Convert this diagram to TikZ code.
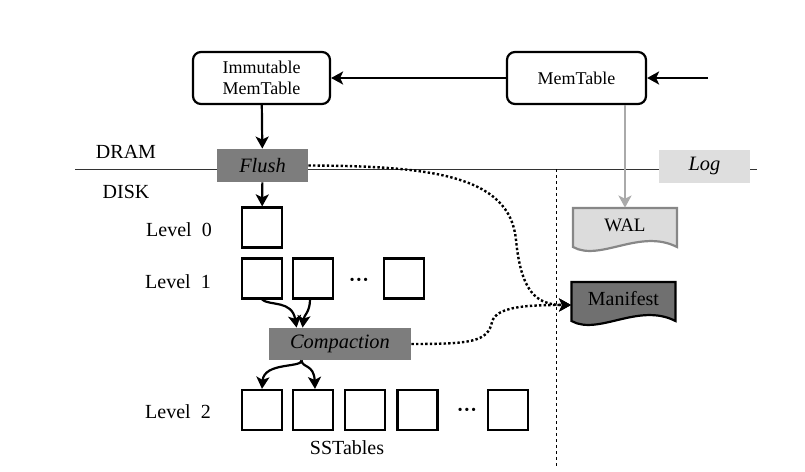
\documentclass[tikz,border=0pt]{standalone}
\usepackage{fontspec}
\setmainfont{Liberation Serif}
\usetikzlibrary{arrows.meta,calc,positioning}
\definecolor{opgray}{RGB}{125,125,125}
\definecolor{loggray}{RGB}{222,222,222}
\definecolor{walgray}{RGB}{220,220,220}
\definecolor{walline}{RGB}{135,135,135}
\definecolor{mangray}{RGB}{112,112,112}
\definecolor{putgray}{RGB}{170,170,170}
\tikzset{
  memtable/.style={draw,line width=1.1pt,rounded corners=4pt,align=center,
    minimum width=68.5pt,minimum height=26pt,inner sep=1pt,font=\fontsize{9}{10.5}\selectfont},
  opbox/.style={fill=opgray,minimum width=45.5pt,minimum height=16.5pt,
    inner sep=0pt,font=\fontsize{10.2}{12}\selectfont\itshape},
  sst/.style={draw,line width=1.1pt,minimum size=20pt,inner sep=0pt},
  flow/.style={-{Stealth[length=6pt,width=6.5pt,inset=1.5pt]},line width=1.1pt},
  meta/.style={flow,line width=1.2pt,dash pattern=on 1.2pt off 1.1pt},
  doctext/.style={minimum width=52pt,minimum height=17pt,inner sep=0pt}
}
% document shape with a wavy bottom: name, centre x, top y, text, style
\newcommand\docshape[5]{%
  \draw[#5] (#2-52,#3) -- (#2-52,#3+39) .. controls (#2-25,#3+54) and (#2+15,#3+20) .. (#2+52,#3+39) -- (#2+52,#3) -- cycle;
  \node[doctext] (#1) at (#2,#3+17) {#4}
}

\begin{document}
\begin{tikzpicture}[x=0.5pt,y=-0.5pt,font=\fontsize{10}{12}\selectfont]
        \useasboundingbox (0,0) rectangle (805,472);
        % Separation lines
        \draw[line width=0.5pt,black!80] (75,169) -- (757,169);
        \draw[line width=0.5pt,dash pattern=on 1.5pt off 1.5pt] (556,169) -- (556,468);
        \node (dram) at (126,152) {DRAM};
        \node (disk) at (126,192) {DISK};

        % The memtables
        \node[memtable] (imm) at (261.5,78) {Immutable\\MemTable};
        \node[memtable,minimum width=69.5pt] (mem) at (576.5,78) {MemTable};
        \coordinate (put) at (708,78);
        \draw[flow] (put) -- (mem);
        \draw[flow] (mem) -- (imm);

        % Flush and log
        \node[opbox] (flush) at (262.5,165.5) {Flush};
        \node[opbox,fill=loggray] (log) at (704.5,166) {Log};
        \draw[flow] (imm) -- (flush);

        % WAL and manifest files
        \docshape{wal}{625}{208}{\fontsize{9.5}{11}\selectfont WAL}{fill=walgray,draw=walline,line width=1.1pt};
        \docshape{man}{623.5}{282}{Manifest}{fill=mangray,draw=black,line width=1.1pt};
        \draw[flow,draw=putgray] (wal.north |- mem.south) -- (wal.north);

        % The levels
        \node (lv0) at (179,230) {Level~~0};
        \node[sst] (s00) at (262,227.5) {};
        \node (lv1) at (178,282) {Level~~1};
        \node[sst] (s10) at (262,278.5) {};
        \node[sst] (s11) at (313,278.5) {};
        \node (d1) at (359,282) {\textbf{···}};
        \node[sst] (s12) at (404,278.5) {};
        \node[opbox,minimum width=71pt,minimum height=16pt] (comp) at (340,344) {Compaction};
        \node (lv2) at (178,412) {Level~~2};
        \node[sst] (s20) at (262,410) {};
        \node[sst] (s21) at (313,410) {};
        \node[sst] (s22) at (365,410) {};
        \node[sst] (s23) at (417.5,410) {};
        \node (d2) at (467,412) {\textbf{···}};
        \node[sst] (s24) at (508,410) {};
        \node (sstlabel) at (347,448) {SSTables};

        % Flush and compaction arrows
        \draw[flow] (flush) -- (s00);
        \draw[flow] (s10.south) .. controls (270,306) and (292,300) .. ([xshift=14pt]comp.north west);
        \draw[flow] ([xshift=-1.5pt]s11.south) .. controls (310,312) and (304,315) .. ([xshift=17pt]comp.north west);
        \draw[flow] ([xshift=16.5pt]comp.south west) .. controls (302,368) and (264,362) .. (s20.north);
        \draw[flow] ([xshift=16.5pt]comp.south west) .. controls (302,368) and (314,364) .. ([xshift=1pt]s21.north);

        % Manifest updates
        \draw[meta] (flush.east) .. controls (430,166) and (510,175) .. (516,240)
          .. controls (521,290) and (535,305) .. ([yshift=-3pt]man.west);
        \draw[meta] (comp.east) .. controls (470,344) and (488,342) .. (492,322)
          .. controls (496,306) and (530,305) .. ([yshift=-3pt]man.west);
\end{tikzpicture}
\end{document}
